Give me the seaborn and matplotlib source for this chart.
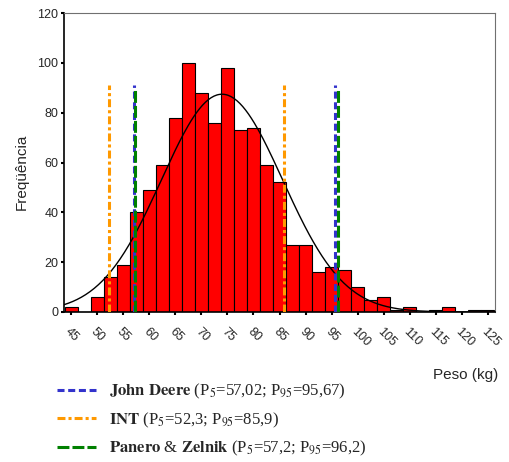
import numpy as np
import pandas as pd
import seaborn as sns
import matplotlib.pyplot as plt
from matplotlib.lines import Line2D

# Histogram bins (centre in kg) and their frequencies
bin_centers = np.arange(45, 125.1, 2.5)
counts = [2, 0, 6, 14, 19, 40, 49, 59, 78, 100, 88, 76, 98, 73, 74, 59, 52,
          27, 27, 16, 18, 17, 10, 5, 6, 1, 2, 0, 1, 2, 0, 1, 1]

# Percentile references (P5, P95) per source
ref_names = ["John Deere", "INT", "Panero & Zelnik"]
ref_p5 = [57.02, 52.3, 57.2]
ref_p95 = [95.67, 85.9, 96.2]
ref_p5_txt = ["57,02", "52,3", "57,2"]
ref_p95_txt = ["95,67", "85,9", "96,2"]
ref_top = [91, 91, 90]

x_ticks = list(range(45, 126, 5))
y_ticks = list(range(0, 121, 20))

sns.set_style("ticks")
plt.rcParams["font.family"] = ["Liberation Sans", "DejaVu Sans"]
plt.rcParams["mathtext.fontset"] = "stix"

df = pd.DataFrame({"peso": bin_centers, "n": counts})
width = 2.5

fig = plt.figure(figsize=(5.09, 4.62), dpi=100)
ax = fig.add_axes([64 / 509, 1 - 312 / 462, 431 / 509, 299 / 462])

sns.histplot(data=df, x="peso", weights="n", binwidth=width,
             binrange=(bin_centers[0] - width / 2, bin_centers[-1] + width / 2),
             color="#ff0000", edgecolor="black", linewidth=0.8, alpha=1, ax=ax)

# fitted normal curve from the binned data
n_tot = df["n"].sum()
mu = np.average(df["peso"], weights=df["n"])
sd = np.sqrt(np.average((df["peso"] - mu) ** 2, weights=df["n"]) * n_tot / (n_tot - 1))
xs = np.linspace(43.6, 126.4, 300)
ys = n_tot * width * np.exp(-(xs - mu) ** 2 / (2 * sd ** 2)) / (sd * np.sqrt(2 * np.pi))
sns.lineplot(x=xs, y=ys, color="black", linewidth=1.0, ax=ax)

styles = [
    dict(color="#3333cc", linestyle=(0, (2.3, 1.2))),
    dict(color="#ff9900", linestyle=(0, (2.6, 1.0, 1.0, 1.0))),
    dict(color="#008000", linestyle=(0, (3.9, 1.0))),
]
for p5, p95, top, st in zip(ref_p5, ref_p95, ref_top, styles):
    ax.vlines([p5, p95], 0, top, linewidth=2.2, zorder=5, **st)

ax.set_xlim(43.6, 126.4)
ax.set_ylim(0, 120)
ax.set_xticks(x_ticks)
ax.set_xticklabels([str(t) for t in x_ticks], rotation=-45, ha="left", va="top",
                   rotation_mode="anchor", fontsize=9)
ax.set_yticks(y_ticks)
ax.set_yticklabels([str(t) for t in y_ticks], fontsize=9)
ax.tick_params(axis="both", length=2, width=1.5, pad=2, color="black")
ax.tick_params(axis="x", pad=8)

for side in ["top", "right"]:
    ax.spines[side].set_visible(True)
    ax.spines[side].set_color("#707070")
for side in ["left", "bottom"]:
    ax.spines[side].set_color("black")
    ax.spines[side].set_linewidth(1.2)

ax.set_ylabel("Freqüência", fontsize=11, va="center")
ax.yaxis.set_label_coords(-0.0975, 0.47)
ax.set_xlabel("Peso (kg)", fontsize=11, ha="right", va="center")
ax.xaxis.set_label_coords(1.007, -0.211)

handles = [Line2D([0], [0], linewidth=2.2, **st) for st in styles]
labels = []
for name, a, b in zip(ref_names, ref_p5_txt, ref_p95_txt):
    bold = " ".join(w if w == "&" else r"$\mathbf{" + w + "}$" for w in name.split())
    labels.append(bold + r" (P$_{5}$=" + a + r"; P$_{95}$=" + b + ")")
fig.legend(handles, labels, loc="upper left", bbox_to_anchor=(42 / 509, 1 - 367 / 462),
           frameon=False, prop={"family": "Liberation Serif", "size": 12},
           handlelength=2.33, handletextpad=0.8, labelspacing=0.55)

fig.savefig("out.png", dpi=100)
